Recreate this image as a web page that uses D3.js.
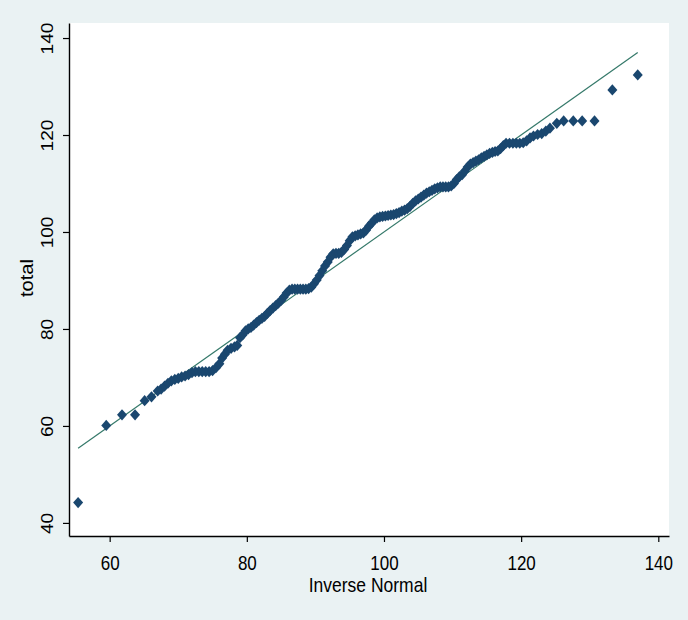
<!DOCTYPE html>
<html>
<head>
<meta charset="utf-8">
<script src="https://cdn.jsdelivr.net/npm/d3@7"></script>
<style>
  body { margin: 0; background: #eaf2f3; }
  text { font-family: "Liberation Sans", Arial, sans-serif; }
</style>
</head>
<body>
<div id="chart"></div>
<script>
// inverse normal (x) and sorted total (y)
var invNormal = [55.4, 59.5, 61.8, 63.7, 65.1, 66.1,
  67.0, 67.5, 68.0, 68.5, 69.0, 69.5, 70.0, 70.5, 71.0, 71.5, 72.0, 72.5, 73.0, 73.5,
  74.0, 74.5, 75.0, 75.5, 76.0, 76.4, 76.8, 77.2, 77.7, 78.2, 78.6, 79.0, 79.4, 79.8,
  80.2, 80.6, 81.0, 81.4, 81.8, 82.2, 82.6, 83.0, 83.4, 83.8, 84.2, 84.6, 85.0, 85.4,
  85.8, 86.2, 86.6, 87.0, 87.4, 87.8, 88.2, 88.6, 89.0, 89.4, 89.8, 90.2, 90.6, 91.0,
  91.4, 91.8, 92.2, 92.6, 93.0, 93.4, 93.8, 94.2, 94.6, 95.0, 95.4, 95.8, 96.2, 96.6,
  97.0, 97.4, 97.8, 98.2, 98.6, 99.0, 99.4, 99.8, 100.2, 100.6, 101.0, 101.4, 101.8,
  102.2, 102.6, 103.0, 103.4, 103.8, 104.2, 104.6, 105.0, 105.4, 105.8, 106.2, 106.6,
  107.0, 107.4, 107.8, 108.2, 108.6, 109.0, 109.4, 109.8, 110.2, 110.6, 111.0, 111.4,
  111.8, 112.2, 112.6, 113.0, 113.4, 113.8, 114.2, 114.6, 115.0, 115.4, 115.8, 116.2,
  116.6, 117.0, 117.4, 117.8, 118.3, 118.8, 119.3, 119.8, 120.3, 120.8, 121.3, 121.8,
  122.4, 123.0, 123.6, 124.2, 125.2, 126.2, 127.6, 128.9, 130.7, 133.3, 137.0];
var total = [44.2, 60.1, 62.3, 62.3, 65.2, 66.0,
  67.2, 67.6, 68.2, 68.8, 69.3, 69.6, 69.8, 70.1, 70.3, 70.6, 71.0, 71.2, 71.2, 71.2,
  71.2, 71.2, 71.4, 72.0, 72.8, 74.0, 74.8, 75.6, 76.0, 76.3, 76.6, 78.2, 78.8, 79.6,
  80.0, 80.3, 80.8, 81.3, 81.8, 82.2, 82.6, 83.2, 83.8, 84.3, 84.8, 85.3, 85.9, 86.6,
  87.4, 88.0, 88.2, 88.2, 88.2, 88.2, 88.2, 88.2, 88.3, 88.6, 89.3, 90.1, 91.0, 92.0,
  93.0, 93.8, 94.8, 95.5, 95.6, 95.6, 95.8, 96.4, 97.2, 98.2, 99.0, 99.2, 99.4, 99.6,
  99.8, 100.4, 101.2, 101.8, 102.5, 102.9, 103.1, 103.2, 103.3, 103.4, 103.5, 103.6, 103.8,
  104.0, 104.3, 104.5, 104.8, 105.3, 105.9, 106.4, 106.8, 107.2, 107.6, 108.0, 108.3,
  108.6, 108.9, 109.1, 109.3, 109.3, 109.3, 109.3, 109.5, 110.0, 110.8, 111.4, 111.8,
  112.6, 113.4, 114.0, 114.3, 114.6, 114.9, 115.3, 115.6, 115.9, 116.2, 116.4, 116.6,
  116.7, 117.2, 117.8, 118.3, 118.3, 118.3, 118.3, 118.3, 118.4, 118.8, 119.4, 119.8,
  120.1, 120.3, 120.8, 121.4, 122.4, 122.9, 122.9, 122.9, 122.9, 129.3, 132.4];
// reference line y = x between the extreme inverse normal values
var refX = [55.4, 137.0];
var refY = [55.4, 137.0];
var xTicks = [60, 80, 100, 120, 140];
var yTicks = [40, 60, 80, 100, 120, 140];

var W = 688, H = 620;
var plot = {left: 69, right: 669, top: 23, bottom: 536};

var svg = d3.select("#chart").append("svg")
    .attr("width", W)
    .attr("height", H);

svg.append("rect")
    .attr("width", W).attr("height", H)
    .attr("fill", "#eaf2f3");

svg.append("rect")
    .attr("x", plot.left).attr("y", plot.top)
    .attr("width", plot.right - plot.left)
    .attr("height", plot.bottom - plot.top)
    .attr("fill", "#ffffff");

var x = d3.scaleLinear().domain([54.07, 141.56]).range([plot.left, plot.right]);
var y = d3.scaleLinear().domain([37.3, 143.1]).range([plot.bottom, plot.top]);

// reference line
var pts = refX.map(function(d, i) { return [d, refY[i]]; });
svg.append("path")
    .datum(pts)
    .attr("d", d3.line().x(function(d) { return x(d[0]); }).y(function(d) { return y(d[1]); }))
    .attr("fill", "none")
    .attr("stroke", "#35796a")
    .attr("stroke-width", 1.2);

// diamond markers
var data = invNormal.map(function(d, i) { return {x: d, y: total[i]}; });
svg.append("g").selectAll("path")
  .data(data)
  .enter()
  .append("path")
    .attr("d", "M0,-5.6L5,0L0,5.6L-5,0Z")
    .attr("transform", function(d) { return "translate(" + x(d.x) + "," + y(d.y) + ")"; })
    .attr("fill", "#1a476f");

// axes
var xAxis = svg.append("g")
    .attr("transform", "translate(0," + plot.bottom + ")")
    .call(d3.axisBottom(x).tickValues(xTicks).tickSize(6).tickSizeOuter(0));
xAxis.select(".domain").attr("stroke", "#000").attr("stroke-width", 1.4);
xAxis.selectAll(".tick line").attr("stroke", "#000").attr("stroke-width", 1.2);
xAxis.selectAll("text")
    .attr("y", 0).attr("dy", 0)
    .attr("transform", "translate(0,34) scale(1,1.15)")
    .style("font-size", "17px")
    .attr("fill", "#000");

var yAxis = svg.append("g")
    .attr("transform", "translate(" + plot.left + ",0)")
    .call(d3.axisLeft(y).tickValues(yTicks).tickSize(6).tickSizeOuter(0));
yAxis.select(".domain").attr("stroke", "#000").attr("stroke-width", 1.4);
yAxis.selectAll(".tick line").attr("stroke", "#000").attr("stroke-width", 1.2);
yAxis.selectAll("text")
    .attr("x", 0).attr("dy", 0)
    .attr("text-anchor", "middle")
    .attr("transform", "translate(-16,0) rotate(-90) scale(1.12,1)")
    .style("font-size", "17px")
    .attr("fill", "#000");

// axis titles
svg.append("text")
    .attr("transform", "translate(368,592) scale(1,1.12)")
    .attr("text-anchor", "middle")
    .style("font-size", "17.5px")
    .text("Inverse Normal");

svg.append("text")
    .attr("transform", "translate(33,278) rotate(-90) scale(1.12,1)")
    .attr("text-anchor", "middle")
    .style("font-size", "18px")
    .text("total");
</script>
</body>
</html>
